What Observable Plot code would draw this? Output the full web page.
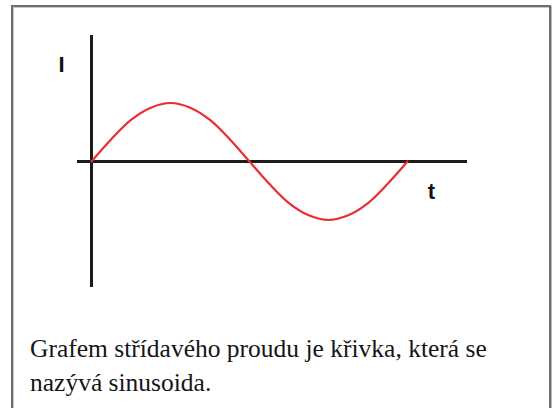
<!DOCTYPE html>
<html>
<head>
<meta charset="utf-8">
<script src="https://cdn.jsdelivr.net/npm/d3@7"></script>
<script src="https://cdn.jsdelivr.net/npm/@observablehq/plot@0.6"></script>
<style>
  html, body { margin: 0; padding: 0; background: #fff; }
  body { width: 553px; height: 408px; position: relative; overflow: hidden; }
  #box { position: absolute; left: 11px; top: 5px; width: 536px; height: 420px;
         border: 2px solid #6f6f6f; box-shadow: 1px 1px 0 #b8b8b8, inset 1px 1px 0 #c8c8c8; }
  #chart { position: absolute; left: 0; top: 0; }
  #caption { position: absolute; left: 30px; top: 332px;
             font-family: 'Liberation Serif', Tinos, 'Times New Roman', Times, 'DejaVu Serif', serif;
             font-size: 25.5px; line-height: 34px; color: #151515; white-space: nowrap; }
</style>
</head>
<body>
<div id="box"></div>
<div id="chart"></div>
<div id="caption">Grafem střídavého proudu je křivka, která se<br>nazývá sinusoida.</div>
<script>
// time samples (fraction of one period) and current values
const tValues = [0, 0.0625, 0.125, 0.1875, 0.25, 0.3125, 0.375, 0.4375, 0.5,
                 0.5625, 0.625, 0.6875, 0.75, 0.8125, 0.875, 0.9375, 1];
const iValues = [0, 0.38, 0.71, 0.92, 1, 0.92, 0.71, 0.38, 0,
                 -0.38, -0.71, -0.92, -1, -0.92, -0.71, -0.38, 0];
// axis extents in data units
const tAxisExtent = [-0.0443, 1.19];
const iAxisExtent = [-2.154, 2.154];
// axis labels
const axisLabels = ["I", "t"];
const labelT = [-0.095, 1.076];
const labelI = [1.65, -0.52];

const curve = tValues.map((t, k) => ({t, I: iValues[k]}));
const labels = axisLabels.map((text, k) => ({text, t: labelT[k], I: labelI[k]}));

const chart = Plot.plot({
  width: 553,
  height: 408,
  x: {domain: tAxisExtent, range: [77, 467], axis: null},
  y: {domain: iAxisExtent, range: [287, 35], axis: null},
  style: {background: "transparent", overflow: "visible"},
  marks: [
    Plot.ruleY([0], {x1: tAxisExtent[0], x2: tAxisExtent[1], stroke: "#1c1c1c", strokeWidth: 3}),
    Plot.ruleX([0], {y1: iAxisExtent[0], y2: iAxisExtent[1], stroke: "#1c1c1c", strokeWidth: 3}),
    Plot.line(curve, {x: "t", y: "I", stroke: "#ee2b2f", strokeWidth: 2.2, curve: "catmull-rom"}),
    Plot.text(labels, {x: "t", y: "I", text: "text", fontSize: 22, fontWeight: "bold",
      fontFamily: "Liberation Sans, Arial, sans-serif", fill: "#111"})
  ]
});
document.getElementById("chart").appendChild(chart);
</script>
</body>
</html>
